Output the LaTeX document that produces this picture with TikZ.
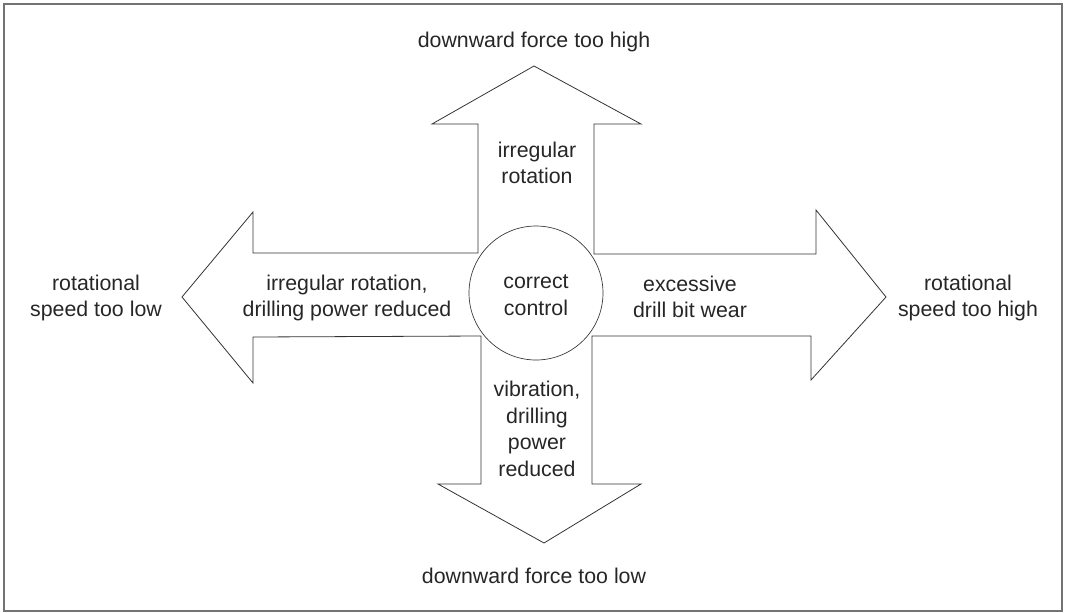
\documentclass[tikz,border=0pt]{standalone}
\usepackage{fontspec}
\setmainfont{Liberation Sans}
\tikzset{lbl/.style={align=center,text=black!85}}
\begin{document}
\begin{tikzpicture}[x=0.75pt,y=-0.75pt,line join=miter,font=\fontsize{16}{20}\selectfont]
\useasboundingbox (0,0) rectangle (1065,612);
\draw[black!55,line width=1.3pt] (4,4) rectangle (1062,611);
% arrow tips and shaft corners
\coordinate (U) at (534,66);  \coordinate (R) at (886,297);
\coordinate (D) at (544,543); \coordinate (L) at (182,297);
\coordinate (A) at (478,253); \coordinate (B) at (594,254);
\coordinate (C) at (592,336); \coordinate (E) at (481,336);
\draw[black!80,line width=0.6pt] (U)--(641,124)--(594,124)--(B)--(816,254)--(816,210)--(R)
   --(811,380)--(811,336)--(C)--(592,484)--(641,484)--(D)--(438,484)--(481,484)--(E)
   --(253,337)--(253,383)--(L)--(253,212)--(253,253)--(A)--(478,124)--(432,124)--cycle;
\draw[black!80,line width=0.5pt,fill=white] (536,293) circle (67);
\node[lbl] (ctr) at (536,295) {correct\\control};
\node[lbl] (up) at (537,163) {irregular\\rotation};
\node[lbl] (lft) at (347,298) {irregular rotation,\\drilling power reduced};
\node[lbl] (rgt) at (690,297) {excessive\\drill bit wear};
\node[lbl] (dwn) at (537,429) {vibration,\\drilling\\power\\reduced};
\node[lbl] (hi) at (534,42) {downward force too high};
\node[lbl] (lo) at (534,576) {downward force too low};
\node[lbl] (slow) at (96,298) {rotational\\speed too low};
\node[lbl] (fast) at (968,298) {rotational\\speed too high};
\end{tikzpicture}
\end{document}
